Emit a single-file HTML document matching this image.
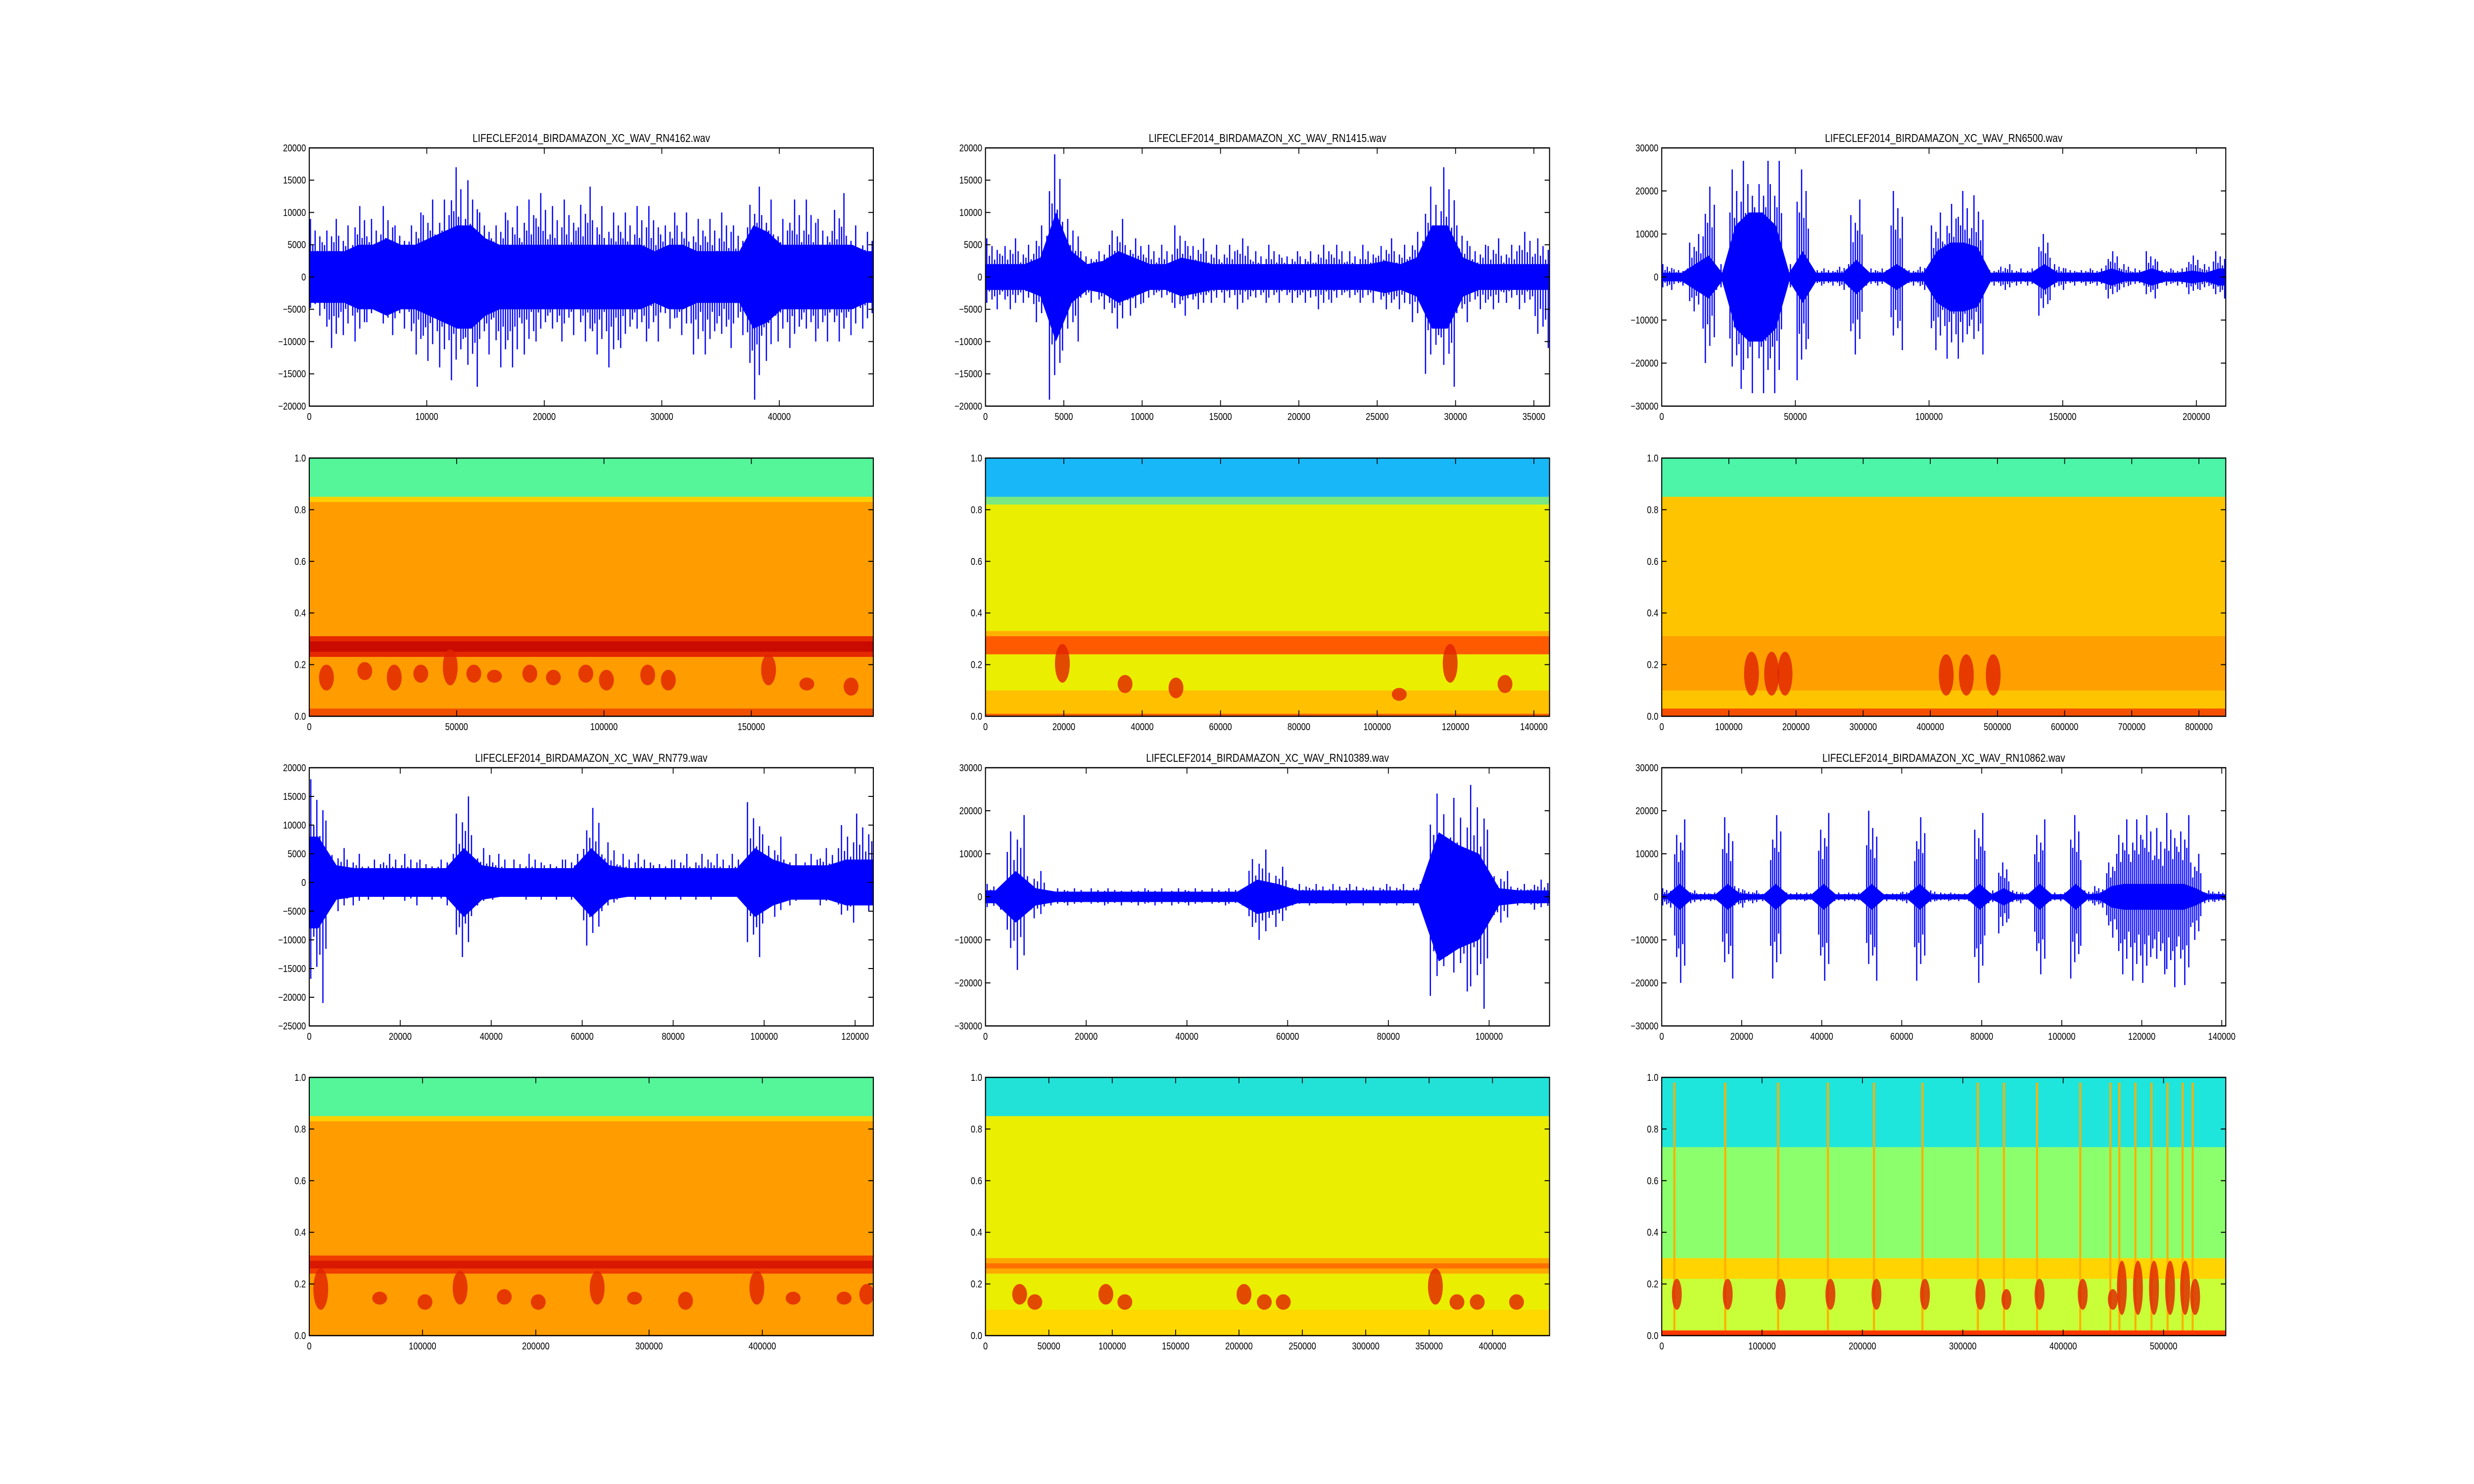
<!DOCTYPE html>
<html><head><meta charset="utf-8">
<style>
html,body{margin:0;padding:0;background:#fff;width:100vw;height:100vh;overflow:hidden}
#fig{display:block;width:100vw;height:100vh}
svg text{font-family:"Liberation Sans",sans-serif;fill:#000}
</style></head>
<body>
<svg id="fig" xmlns="http://www.w3.org/2000/svg" viewBox="0 0 6000 3000" preserveAspectRatio="none">
<rect x="0" y="0" width="6000" height="3000" fill="#fff"/>
</svg>
<script>
// ---- waveform data (per-bin envelopes) ----
const w1Peaks=[9000,9000,8000,11000,9000,11000,8000,10000,12000,12000,17000,15000,10000,10000,11000,12000,13000,11000,12000,14000,11000,10000,10000,11000,11000,10000,10000,9000,9000,10000,8000,14000,12000,9000,12000,12000,9000,13000,8000,7000];
const w1Troughs=[-6000,-11000,-9000,-10000,-7000,-9000,-8000,-12000,-13000,-14000,-16000,-17000,-12000,-14000,-14000,-12000,-10000,-10000,-9000,-10000,-12000,-14000,-11000,-10000,-10000,-8000,-9000,-12000,-12000,-11000,-9000,-19000,-13000,-10000,-11000,-10000,-10000,-10000,-9000,-8000];
const w1Core=[4000,4000,4000,5000,5000,6000,5000,5000,6000,7000,8000,8000,6000,5000,5000,5000,5000,5000,5000,5000,5000,5000,5000,5000,4000,5000,5000,4000,4000,4000,4000,8000,7000,5000,5000,5000,5000,5000,5000,4000];

const w2Peaks=[6000,6000,5000,8000,19000,9000,4000,5000,9000,6000,5000,5000,8000,6000,5000,5000,6000,4000,5000,4000,4000,5000,5000,4000,5000,6000,5000,7000,14000,17000,8000,5000,6000,5000,7000,6000];
const w2Troughs=[-5000,-5000,-4000,-7000,-19000,-10000,-4000,-5000,-8000,-6000,-4000,-4000,-6000,-5000,-4000,-4000,-5000,-4000,-4000,-4000,-4000,-5000,-4000,-4000,-4000,-5000,-5000,-7000,-15000,-17000,-7000,-5000,-5000,-4000,-5000,-11000];
const w2Core=[2000,2000,2000,3000,10000,4000,2000,2500,4000,3000,2000,2000,3000,2500,2000,2000,2000,2000,2000,2000,2000,2000,2000,2000,2000,2500,2000,3000,8000,8000,3000,2000,2000,2000,2000,2000];

const w3Peaks=[3000,2000,10000,21000,3000,25000,27000,27000,27000,3000,25000,2000,2000,3000,18000,2000,2000,20000,2000,3000,15000,17000,20000,19000,2000,3000,2000,2000,10000,3000,2000,2000,2000,6000,3000,2000,6000,2000,2000,5000,3000,6000];
const w3Troughs=[-3000,-2000,-8000,-20000,-3000,-26000,-27000,-27000,-27000,-3000,-24000,-2000,-2000,-3000,-18000,-2000,-2000,-17000,-2000,-3000,-17000,-19000,-19000,-18000,-2000,-3000,-2000,-2000,-9000,-3000,-2000,-2000,-2000,-5000,-3000,-2000,-5000,-2000,-2000,-4000,-3000,-5000];
const w3Core=[1000,1000,3000,5000,1000,12000,15000,15000,12000,1000,6000,1000,1000,1000,4000,1000,1000,3000,1000,1000,6000,8000,8000,7000,1000,1000,1000,1000,3000,1000,1000,1000,1000,2000,1000,1000,2000,1000,1000,1500,1000,2000];

const w4Peaks=[18000,6000,5000,4000,5000,5000,4000,5000,15000,6000,5000,4000,5000,4000,5000,13000,7000,5000,5000,4000,5000,5000,5000,5000,14000,8000,5000,5000,6000,10000,12000];
const w4Troughs=[-21000,-5000,-4000,-3000,-3000,-4000,-3000,-4000,-13000,-4000,-3000,-3000,-3000,-3000,-3000,-11000,-5000,-3000,-3000,-3000,-3000,-3000,-3000,-3000,-13000,-6000,-4000,-3000,-4000,-7000,-5000];
const w4Core=[8000,3000,2500,2500,2500,2500,2500,2500,6000,3000,2500,2500,2500,2500,2500,6000,3000,2500,2500,2500,2500,2500,2500,2500,6000,4000,3000,3000,3000,4000,4000];

const w5Peaks=[3000,19000,6000,2000,2000,2000,2000,2000,2000,2000,2000,2000,2000,11000,7000,3000,3000,3000,3000,3000,3000,3000,24000,23000,26000,6000,3000,4000];
const w5Troughs=[-3000,-17000,-5000,-2000,-2000,-2000,-2000,-2000,-2000,-2000,-2000,-2000,-2000,-10000,-7000,-2000,-2000,-2000,-2000,-2000,-2000,-2000,-23000,-22000,-26000,-6000,-2000,-3000];
const w5Core=[1500,6000,2000,1200,1200,1200,1200,1200,1200,1200,1200,1200,1200,4000,3000,1500,1500,1500,1500,1500,1500,1500,15000,12000,10000,2000,1500,1500];

const w6Peaks=[2000,18000,1500,1000,1000,18500,2500,1500,1000,19000,1000,1000,1000,19500,1000,1000,1000,20000,1000,1000,1500,18500,1500,1000,1000,1000,19500,1500,8000,1500,1000,18000,1000,1000,19000,1500,2500,10000,18000,18000,19000,16000,19500,19000,10000,1500,1200];
const w6Troughs=[-2500,-20000,-1500,-1000,-1000,-19000,-2500,-1500,-1000,-19000,-1000,-1000,-1000,-19500,-1000,-1000,-1000,-19500,-1000,-1000,-1500,-19500,-1500,-1000,-1000,-1000,-20000,-1500,-8500,-1500,-1000,-18000,-1000,-1000,-19000,-1500,-2500,-9500,-18000,-19500,-20000,-18000,-21000,-20500,-10000,-1500,-1200];
const w6Core=[600,3000,600,600,600,3000,800,600,600,3000,600,600,600,3000,600,600,600,3000,600,600,600,3000,600,600,600,600,3000,600,2000,600,600,3000,600,600,3000,600,800,2500,3000,3000,3000,3000,3000,3000,2000,600,600];

// ---- spectrogram call data: [x, lowFreq, highFreq] ----
const s1Calls=[[5000,.1,.2],[18000,.14,.21],[28000,.1,.2],[37000,.13,.2],[47000,.12,.26],[55000,.13,.2],[62000,.13,.18],[74000,.13,.2],[82000,.12,.18],[93000,.13,.2],[100000,.1,.18],[114000,.12,.2],[121000,.1,.18],[155000,.12,.24],[168000,.1,.15],[183000,.08,.15]];
const s2Calls=[[19000,.13,.28],[35000,.09,.16],[48000,.07,.15],[105000,.06,.11],[118000,.13,.28],[132000,.09,.16]];
const s3Calls=[[130000,.08,.25],[160000,.08,.25],[180000,.08,.25],[420000,.08,.24],[450000,.08,.24],[490000,.08,.24]];
const s4Calls=[[8000,.1,.26],[60000,.12,.17],[100000,.1,.16],[131000,.12,.25],[170000,.12,.18],[200000,.1,.16],[252000,.12,.25],[285000,.12,.17],[330000,.1,.17],[393000,.12,.25],[425000,.12,.17],[470000,.12,.17],[490000,.12,.2]];
const s5Calls=[[25000,.12,.2],[37000,.1,.16],[93000,.12,.2],[108000,.1,.16],[202000,.12,.2],[218000,.1,.16],[233000,.1,.16],[353000,.12,.26],[370000,.1,.16],[386000,.1,.16],[417000,.1,.16]];
const s6Calls=[[12600,.1,.22],[63300,.1,.22],[116000,.1,.22],[165600,.1,.22],[211500,.1,.22],[259800,.1,.22],[315000,.1,.22],[341000,.1,.18],[374000,.1,.22],[417000,.1,.22],[447000,.1,.18],[456000,.08,.29],[472000,.08,.29],[488000,.08,.29],[504000,.08,.29],[519000,.08,.29],[529000,.08,.22]];

// ---- spectrogram colour bands: [fromFreq, toFreq, colour] ----
const s1Bands=[[0,1,'#ff9c00'],[0.83,0.86,'#ffd000'],[0.85,1,'#55f59a'],[0.23,0.31,'#e42800'],[0.25,0.29,'#c80a00'],[0,0.03,'#f05000']];
const s2Bands=[[0,1,'#eaee00'],[0.82,0.86,'#7ae880'],[0.85,1,'#18b8f8'],[0.3,0.33,'#ffb000'],[0.24,0.31,'#ff5a00'],[0,0.1,'#ffc000'],[0,0.01,'#ff6000']];
const s3Bands=[[0,1,'#ffc400'],[0.85,1,'#4cf5a8'],[0.1,0.31,'#ffa000'],[0,0.03,'#f55000']];
const s4Bands=[[0,1,'#ff9c00'],[0.83,0.86,'#ffd000'],[0.85,1,'#55f59a'],[0.24,0.31,'#f03c00'],[0.26,0.29,'#d81800']];
const s5Bands=[[0,1,'#eaee00'],[0.85,1,'#22e2d8'],[0.24,0.3,'#ffa800'],[0.26,0.28,'#ff7000'],[0,0.1,'#ffd800']];
const s6Bands=[[0,1,'#c8ff38'],[0.3,0.73,'#8cff6c'],[0.73,1,'#1ee6dc'],[0.22,0.3,'#ffd400'],[0,0.02,'#ff3800']];

const PW=1368, PH=522;
const colsX=[750,2390,4030];
const rowsY=[299,926,1552,2178];

const NS='http://www.w3.org/2000/svg';
const fig=document.getElementById('fig');
function mk(tag,attrs,parent){const e=document.createElementNS(NS,tag);for(const k in attrs)e.setAttribute(k,attrs[k]);(parent||fig).appendChild(e);return e;}
function fmt(v){return v<0?'\u2212'+(-v):String(v);}

function axes(left,top,xmax,ymin,ymax,xticks,yticks,fmtY,name){
  const g=mk('g',{});
  
  
  const sx=v=>left+v/xmax*PW;
  const sy=v=>top+(ymax-v)/(ymax-ymin)*PH;
  return {g,sx,sy,left,top,xmax,ymin,ymax,xticks,yticks,fmtY,name};
}
function frame(a){
  const g=a.g;
  const fr=mk('rect',{x:a.left,y:a.top,width:PW,height:PH,fill:'none',stroke:'#000','stroke-width':2.5},g);
  
  
  for(const t of a.xticks){
    const x=a.sx(t);
    mk('line',{x1:x,y1:a.top+PH,x2:x,y2:a.top+PH-12,stroke:'#000','stroke-width':2},g);
    mk('line',{x1:x,y1:a.top,x2:x,y2:a.top+12,stroke:'#000','stroke-width':2},g);
    const tx=mk('text',{x:x,y:a.top+PH+28,'font-size':20,'text-anchor':'middle'},g);
    tx.textContent=String(t);
    
    
  }
  for(const t of a.yticks){
    const y=a.sy(t);
    mk('line',{x1:a.left,y1:y,x2:a.left+12,y2:y,stroke:'#000','stroke-width':2},g);
    mk('line',{x1:a.left+PW,y1:y,x2:a.left+PW-12,y2:y,stroke:'#000','stroke-width':2},g);
    const ty=mk('text',{x:a.left-8,y:y+7,'font-size':20,'text-anchor':'end'},g);
    ty.textContent=a.fmtY(t);
    
    
  }
}
function range(a,b,s){const r=[];for(let v=a;v<=b+1e-9;v+=s)r.push(Math.round(v*10)/10);return r;}

const spikePattern=[1,0.55,0.8,0.45,0.7,0.6];
function waveform(col,row,title,xmax,ymin,ymax,xstep,ystep,peaks,troughs,core,name,lw){
  const a=axes(colsX[col],rowsY[row],xmax,ymin,ymax,range(0,xmax,xstep),range(ymin,ymax,ystep),fmt,name);
  const n=peaks.length, bw=xmax/n;
  const clip='clip-'+name;
  const cp=mk('clipPath',{id:clip},a.g);mk('rect',{x:a.left,y:a.top,width:PW,height:PH},cp);
  const dg=mk('g',{'clip-path':'url(#'+clip+')'},a.g);
  let top=[],bot=[];
  for(let i=0;i<n;i++){const xc=a.sx((i+0.5)*bw);top.push(xc+','+a.sy(core[i]));bot.unshift(xc+','+a.sy(-core[i]));}
  top.unshift(a.sx(0)+','+a.sy(core[0]));bot.push(a.sx(0)+','+a.sy(-core[0]));
  top.push(a.sx(xmax)+','+a.sy(core[n-1]));bot.unshift(a.sx(xmax)+','+a.sy(-core[n-1]));
  const poly=mk('polygon',{points:top.concat(bot).join(' '),fill:'#0000ff'},dg);
  
  
  const m=spikePattern.length;
  for(let i=0;i<n;i++){
    for(let k=0;k<m;k++){
      const xv=(i+(k+0.5)/m)*bw;
      const f=spikePattern[(k+i)%m];
      const xc=a.sx(xv);
      const ln=mk('line',{x1:xc,y1:a.sy(peaks[i]*f),x2:xc,y2:a.sy(troughs[i]*spikePattern[(k+i+2)%m]),stroke:'#0000ff','stroke-width':lw},dg);
      
      
    }
  }
  frame(a);
  const t=mk('text',{x:a.left+PW/2,y:a.top-12,'font-size':23,'text-anchor':'middle'},a.g);
  t.textContent=title;
  
  
}

function spectro(col,row,xmax,xstep,bands,calls,name,lines){
  const a=axes(colsX[col],rowsY[row],xmax,0,1,range(0,xmax,xstep),[0,0.2,0.4,0.6,0.8,1.0],v=>v.toFixed(1),name);
  a.xticks=a.xticks.filter(v=>v<xmax);
  const clip='clip-'+name;
  const cp=mk('clipPath',{id:clip},a.g);mk('rect',{x:a.left,y:a.top,width:PW,height:PH},cp);
  const dg=mk('g',{'clip-path':'url(#'+clip+')'},a.g);
  for(const b of bands){
    const r=mk('rect',{x:a.left,y:a.sy(b[1]),width:PW,height:a.sy(b[0])-a.sy(b[1]),fill:b[2]},dg);
    
    
  }
  for(const c of calls){
    const cx=a.sx(c[0]);
    if(lines){
      const l=mk('line',{x1:cx,y1:a.sy(0.98),x2:cx,y2:a.sy(0.02),stroke:'#ffb000','stroke-width':5},dg);
      
      
    }
    const e=mk('ellipse',{cx:cx+6,cy:(a.sy(c[1])+a.sy(c[2]))/2,rx:lines?12:18,ry:(a.sy(c[1])-a.sy(c[2]))/2,fill:'#e02000',opacity:0.8},dg);
    
    
  }
  frame(a);
}

waveform(0,0,'LIFECLEF2014_BIRDAMAZON_XC_WAV_RN4162.wav',48000,-20000,20000,10000,5000,w1Peaks,w1Troughs,w1Core,'wave-rn4162',3);
waveform(1,0,'LIFECLEF2014_BIRDAMAZON_XC_WAV_RN1415.wav',36000,-20000,20000,5000,5000,w2Peaks,w2Troughs,w2Core,'wave-rn1415',3);
waveform(2,0,'LIFECLEF2014_BIRDAMAZON_XC_WAV_RN6500.wav',211000,-30000,30000,50000,10000,w3Peaks,w3Troughs,w3Core,'wave-rn6500',3);
waveform(0,2,'LIFECLEF2014_BIRDAMAZON_XC_WAV_RN779.wav',124000,-25000,20000,20000,5000,w4Peaks,w4Troughs,w4Core,'wave-rn779',3);
waveform(1,2,'LIFECLEF2014_BIRDAMAZON_XC_WAV_RN10389.wav',112000,-30000,30000,20000,10000,w5Peaks,w5Troughs,w5Core,'wave-rn10389',3);
waveform(2,2,'LIFECLEF2014_BIRDAMAZON_XC_WAV_RN10862.wav',141000,-30000,30000,20000,10000,w6Peaks,w6Troughs,w6Core,'wave-rn10862',3);

spectro(0,1,191400,50000,s1Bands,s1Calls,'spec-rn4162',false);
spectro(1,1,144000,20000,s2Bands,s2Calls,'spec-rn1415',false);
spectro(2,1,840000,100000,s3Bands,s3Calls,'spec-rn6500',false);
spectro(0,3,498000,100000,s4Bands,s4Calls,'spec-rn779',false);
spectro(1,3,445000,50000,s5Bands,s5Calls,'spec-rn10389',false);
spectro(2,3,562000,100000,s6Bands,s6Calls,'spec-rn10862',true);
</script>
</body></html>
